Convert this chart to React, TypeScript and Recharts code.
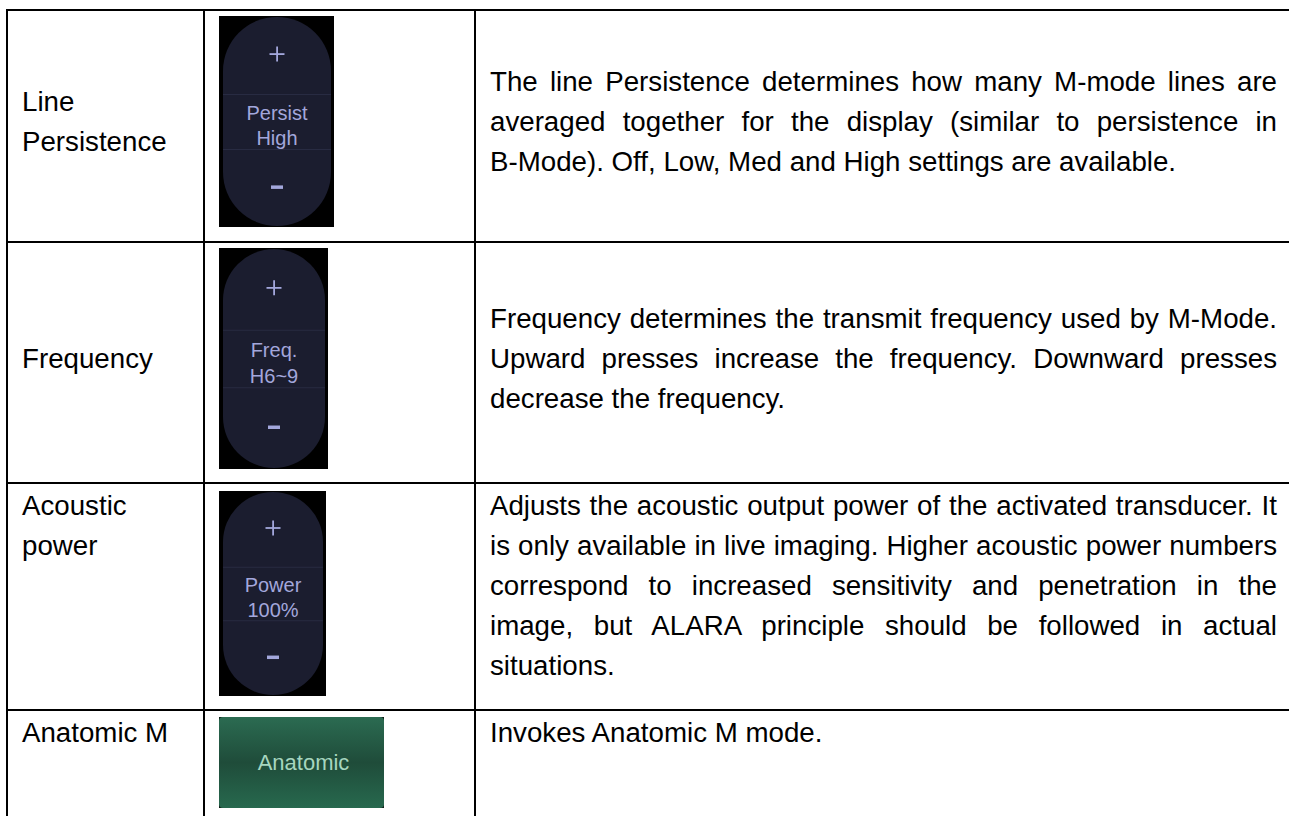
import { Surface, Rectangle, Text } from "recharts";

const ROW_NAMES = ["Line Persistence", "Frequency", "Acoustic power", "Anatomic M"];

const WIDGET_LABELS = [["Persist", "High"], ["Freq.", "H6~9"], ["Power", "100%"], ["Anatomic"]];

const DESCRIPTIONS = [
  "The line Persistence determines how many M-mode lines are averaged together for the display (similar to persistence in B-Mode). Off, Low, Med and High settings are available.",
  "Frequency determines the transmit frequency used by M-Mode. Upward presses increase the frequency. Downward presses decrease the frequency.",
  "Adjusts the acoustic output power of the activated transducer. It is only available in live imaging. Higher acoustic power numbers correspond to increased sensitivity and penetration in the image, but ALARA principle should be followed in actual situations.",
  "Invokes Anatomic M mode.",
];

// layout (px)
const ROW_LINES = [9, 241, 482, 709];
const COL_LINES = [6, 203, 474];
const ROW_ALIGN: ("center" | "top")[] = ["center", "center", "top", "top"];
const WIDGET_FRAMES = [
  { x: 219, y: 16, w: 115, h: 211 },
  { x: 219, y: 248, w: 109, h: 221 },
  { x: 219, y: 491, w: 107, h: 205 },
  { x: 219, y: 717, w: 165, h: 91 },
];

const TEXT_FONT = "'Liberation Sans', Arial, Helvetica, sans-serif";
const PILL = "#1b1d2f";
const LAV = "#a3a7dc";

// Word keeps hyphenated words together on a line
function keepHyphens(text: string) {
  const words = text.split(" ");
  return words.map((w, i) => (
    <span key={i}>
      {w.includes("-") ? <span style={{ whiteSpace: "nowrap" }}>{w}</span> : w}
      {i < words.length - 1 ? " " : ""}
    </span>
  ));
}

function StepperWidget({ w, h, labels }: { w: number; h: number; labels: string[] }) {
  const px = 4;
  const pw = w - 7;
  const cx = px + pw / 2;
  return (
    <Surface width={w} height={h} viewBox={{ x: 0, y: 0, width: w, height: h }}>
      <Rectangle x={0} y={0} width={w} height={h} fill="#000" />
      <Rectangle x={px} y={1} width={pw} height={h - 2} radius={pw / 2} fill={PILL} />
      <Rectangle x={px} y={h * 0.37} width={pw} height={1} fill="#282b42" />
      <Rectangle x={px} y={h * 0.63} width={pw} height={1} fill="#282b42" />
      <Rectangle x={cx - 0.8} y={h * 0.18 - 7.5} width={1.8} height={15} fill={LAV} />
      <Rectangle x={cx - 7.5} y={h * 0.18 - 0.8} width={15} height={1.8} fill={LAV} />
      <Rectangle x={cx - 6} y={h * 0.81 - 1.5} width={12} height={3.5} fill={LAV} />
      {labels.map((t, i) => (
        <Text
          key={t}
          x={cx}
          y={h * (0.46 + i * 0.12)}
          textAnchor="middle"
          verticalAnchor="middle"
          fontSize={20}
          fontFamily={TEXT_FONT}
          fill={LAV}
        >
          {t}
        </Text>
      ))}
    </Surface>
  );
}

function ButtonWidget({ w, h, label }: { w: number; h: number; label: string }) {
  return (
    <Surface width={w} height={h} viewBox={{ x: 0, y: 0, width: w, height: h }}>
      <defs>
        <linearGradient id="anatGrad" x1="0" y1="0" x2="0" y2="1">
          <stop offset="0%" stopColor="#2b6b51" />
          <stop offset="50%" stopColor="#1f4c3a" />
          <stop offset="100%" stopColor="#27694e" />
        </linearGradient>
      </defs>
      <Rectangle x={0} y={0} width={w} height={h} fill="#0d1a14" />
      <Rectangle x={0} y={0} width={w} height={h} radius={4} fill="url(#anatGrad)" />
      <Text
        x={w / 2 + 2}
        y={h / 2}
        textAnchor="middle"
        verticalAnchor="middle"
        fontSize={22}
        fontFamily={TEXT_FONT}
        fill="#a6d6bf"
      >
        {label}
      </Text>
    </Surface>
  );
}

export default function App() {
  const rowBottoms = [...ROW_LINES.slice(1), 900];
  return (
    <div
      style={{
        position: "fixed",
        left: 0,
        top: 0,
        width: 1289,
        height: 816,
        overflow: "hidden",
        background: "#fff",
        fontFamily: TEXT_FONT,
        color: "#000",
      }}
    >
      {ROW_LINES.map((y) => (
        <div key={"h" + y} style={{ position: "absolute", left: COL_LINES[0], top: y, width: 1400, height: 2, background: "#000" }} />
      ))}
      {COL_LINES.map((x) => (
        <div key={"v" + x} style={{ position: "absolute", left: x, top: ROW_LINES[0], width: 2, height: 900, background: "#000" }} />
      ))}
      {ROW_NAMES.map((name, i) => {
        const top = ROW_LINES[i];
        const bottom = rowBottoms[i];
        const center = ROW_ALIGN[i] === "center";
        const cellStyle: React.CSSProperties = {
          position: "absolute",
          top: top + 2,
          height: bottom - top - 2,
          display: "flex",
          flexDirection: "column",
          justifyContent: center ? "center" : "flex-start",
          paddingTop: center ? 0 : 2,
          paddingBottom: center ? 8 : 0,
          boxSizing: "border-box",
          fontSize: 27.7,
          lineHeight: "40px",
        };
        const f = WIDGET_FRAMES[i];
        const labels = WIDGET_LABELS[i];
        return (
          <div key={name}>
            <div style={{ ...cellStyle, left: 22, width: 168 }}>
              <div>{name}</div>
            </div>
            <div style={{ position: "absolute", left: f.x, top: f.y, width: f.w, height: f.h }}>
              {labels.length > 1 ? (
                <StepperWidget w={f.w} h={f.h} labels={labels} />
              ) : (
                <ButtonWidget w={f.w} h={f.h} label={labels[0]} />
              )}
            </div>
            <div style={{ ...cellStyle, left: 490, width: 787 }}>
              <div style={{ textAlign: "justify" }}>{keepHyphens(DESCRIPTIONS[i])}</div>
            </div>
          </div>
        );
      })}
    </div>
  );
}
